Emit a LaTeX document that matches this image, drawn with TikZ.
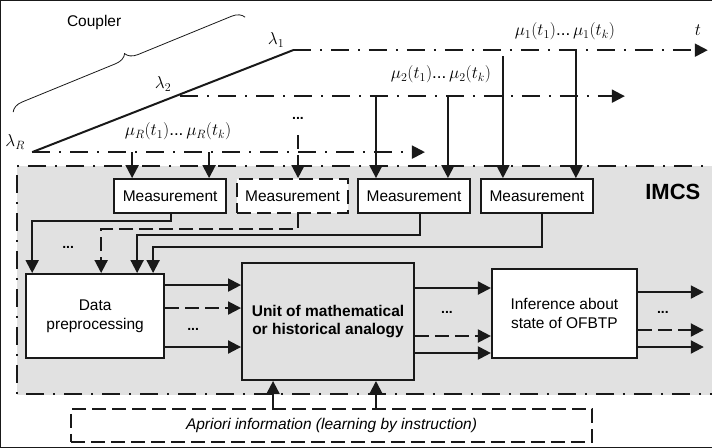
\documentclass[tikz,border=0pt]{standalone}
\usepackage{fontspec}
\setmainfont{Liberation Sans}
\usetikzlibrary{arrows.meta,decorations.pathreplacing,calc}
\definecolor{panel}{RGB}{225,225,225}
\definecolor{ink}{RGB}{25,25,25}
\begin{document}
\begin{tikzpicture}[x=1pt,y=-1pt,
  font=\fontsize{15.5}{19}\selectfont,
  every path/.style={draw=ink},
  wire/.style={line width=2pt,draw=ink},
  tip/.style={-{Triangle[length=13pt,width=13pt]}},
  dashdot/.style={dash pattern=on 18pt off 9pt on 2pt off 9pt},
  dashline/.style={dash pattern=on 14pt off 6pt},
  box/.style={draw=ink,line width=2pt,fill=white,inner sep=0pt,align=center},
  greek/.style={font=\fontsize{17}{19}\selectfont,inner sep=0pt},
  dots/.style={font=\bfseries\fontsize{14}{14}\selectfont,inner sep=0pt}
]
\useasboundingbox (0,0) rectangle (712,447);

% IMCS panel
\fill[panel] (17,166) rectangle (730,394);
\draw[wire,dashdot] (730,166) -- (17,166) -- (17,394) -- (730,394);
\node[font=\bfseries\fontsize{22}{24}\selectfont,inner sep=0pt] (imcs) at (673,192) {IMCS};

% coupler fibres
\coordinate (lR) at (32,152);
\coordinate (l2) at (180,96);
\coordinate (l1) at (293,50);
\coordinate (tR) at (425,152);
\coordinate (t2) at (625,96);
\coordinate (t1) at (708,50);
\draw[wire] (lR) -- (l1);
\draw[wire,dashdot,tip] (l1) -- (t1);
\draw[wire,dashdot,tip] (l2) -- (t2);
\draw[wire,dashdot,tip] (lR) -- (tR);

\node[greek] (lab1) at (276,40) {$\lambda_1$};
\node[greek] (lab2) at (163,84) {$\lambda_2$};
\node[greek] (labR) at (15,142) {$\lambda_R$};
\node[greek] (labt) at (698,30) {$t$};
\node[greek] (mu1) at (565,31) {$\mu_1(t_1)$...\,$\mu_1(t_k)$};
\node[greek] (mu2) at (441,74) {$\mu_2(t_1)$...\,$\mu_2(t_k)$};
\node[greek] (muR) at (178,131) {$\mu_R(t_1)$...\,$\mu_R(t_k)$};
\node[dots] (topdots) at (298,118) {...};

\draw[decorate,decoration={brace,amplitude=12pt},line width=0.8pt] (13,112) -- (245,17);
\node (coupler) at (94,22) {Coupler};

% measurement units
\node[box,minimum width=112pt,minimum height=34pt] (m1) at (170,196) {Measurement};
\node[box,minimum width=111pt,minimum height=34pt,dashline] (m2) at (292.5,196) {Measurement};
\node[box,minimum width=112pt,minimum height=34pt] (m3) at (414,196) {Measurement};
\node[box,minimum width=112pt,minimum height=34pt] (m4) at (537,196) {Measurement};

\draw[wire,tip] (lR -| 132,0) -- (m1.north -| 132,0);
\draw[wire,tip] (lR -| 209,0) -- (m1.north -| 209,0);
\draw[wire,tip,dashline] (topdots.south |- 0,135) -- (m2.north -| topdots.south);
\draw[wire,tip] (l2 -| 376,0) -- (m3.north -| 376,0);
\draw[wire,tip] (l2 -| 448,0) -- (m3.north -| 448,0);
\draw[wire,tip] (503,56) -- (m4.north -| 503,0);
\draw[wire,tip] (l1 -| 576,0) -- (m4.north -| 576,0);

% processing chain
\node[box,minimum width=138pt,minimum height=84pt] (data) at (95,316) {Data\\preprocessing};
\node[box,fill=panel,minimum width=172pt,minimum height=117pt,font=\bfseries\fontsize{15.5}{19}\selectfont] (unit) at (328,321.5) {Unit of mathematical\\or historical analogy};
\node[box,minimum width=145pt,minimum height=89pt] (infer) at (564.5,313.5) {Inference about\\state of OFBTP};
\node[box,dashline,minimum width=521pt,minimum height=33pt,font=\itshape\fontsize{15.5}{17}\selectfont] (apriori) at (331.5,425.5) {Apriori information (learning by instruction)};

% measurements to preprocessing
\draw[wire,tip] (m1.south -| 171,0) -- (171,221) -- (32,221) -- (data.north -| 32,0);
\draw[wire,tip,dashline] (m2.south -| 298,0) -- (298,229) -- (101,229) -- (data.north -| 101,0);
\draw[wire,tip] (m3.south -| 420,0) -- (420,235) -- (137,235) -- (data.north -| 137,0);
\draw[wire,tip] (m4.south -| 542,0) -- (542,247) -- (153,247) -- (data.north -| 153,0);
\node[dots] (indots) at (68,247) {...};

% preprocessing to analogy unit
\draw[wire,tip] (data.east |- 0,285) -- (unit.west |- 0,285);
\draw[wire,tip,dashline] (data.east |- 0,308) -- (unit.west |- 0,308);
\draw[wire,tip] (data.east |- 0,347) -- (unit.west |- 0,347);
\node[dots] (d1) at (193,329) {...};

% analogy unit to inference
\draw[wire,tip] (unit.east |- 0,288) -- (infer.west |- 0,288);
\draw[wire,tip,dashline] (unit.east |- 0,336) -- (infer.west |- 0,336);
\draw[wire,tip] (unit.east |- 0,353) -- (infer.west |- 0,353);
\node[dots] (d2) at (447,312) {...};

% outputs
\coordinate (o1) at (704,292);
\coordinate (o2) at (704,330);
\coordinate (o3) at (704,347);
\draw[wire,tip] (infer.east |- o1) -- (o1);
\draw[wire,tip,dashline] (infer.east |- o2) -- (o2);
\draw[wire,tip] (infer.east |- o3) -- (o3);
\node[dots] (d3) at (663,312) {...};

% a priori knowledge
\draw[wire,tip] (apriori.north -| 273,0) -- (unit.south -| 273,0);
\draw[wire,tip] (apriori.north -| 376,0) -- (unit.south -| 376,0);
\end{tikzpicture}
\end{document}
